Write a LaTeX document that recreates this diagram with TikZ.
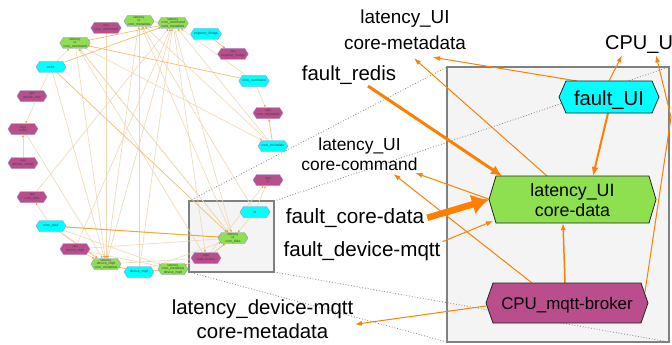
\documentclass[tikz,border=0pt]{standalone}
\usepackage{fontspec}
\setmainfont{Liberation Sans}
\usetikzlibrary{arrows.meta,calc}
\pgfdeclarelayer{bg}\pgfdeclarelayer{edges}\pgfdeclarelayer{shapes}
\pgfsetlayers{bg,edges,shapes,main}
\definecolor{hcyan}{RGB}{0,255,255}
\definecolor{hgreen}{RGB}{142,224,80}
\definecolor{hpurple}{RGB}{186,78,140}
\definecolor{arrorange}{RGB}{255,128,0}
\definecolor{faintedge}{RGB}{240,216,178}
\definecolor{midedge}{RGB}{244,190,110}
\definecolor{strongedge}{RGB}{245,168,50}
\definecolor{tiporange}{RGB}{240,160,40}
\definecolor{panelgray}{RGB}{244,244,244}
\definecolor{panelborder}{RGB}{128,128,128}
\definecolor{smalloutline}{RGB}{150,150,210}
\newcommand\fsz[2]{\fontsize{#1}{#2}\selectfont}
\begin{document}
\begin{tikzpicture}[x=1pt,y=-1pt,
  frame/.style={draw=panelborder, fill=panelgray, line width=1.5pt, inner sep=0pt, outer sep=0pt},
  dots/.style={draw=gray, dotted, line width=0.8pt},
  sn/.style={inner sep=0pt, outer sep=0pt, minimum width=23pt, minimum height=11pt, font=\fsz{3.4}{3.6}, align=center, text=black!75},
  bn/.style={inner sep=0pt, outer sep=0pt},
  lbl/.style={inner sep=0pt, anchor=base},
  fe/.style={draw=faintedge, line width=0.6pt, -{Latex[length=2.5pt,width=2pt,color=tiporange]}},
  me/.style={draw=midedge, line width=0.7pt, -{Latex[length=2.8pt,width=2.2pt,color=tiporange]}},
  se/.style={draw=strongedge, line width=1pt, -{Latex[length=3.5pt,width=3pt,color=tiporange]}},
  arr/.style={draw=arrorange, line width=1pt, -{Latex[length=7pt,width=5pt]}},
  arrm/.style={draw=arrorange, line width=2pt, -{Latex[length=9pt,width=7pt]}},
  arrb/.style={draw=arrorange, line width=3pt, -{Latex[length=11pt,width=10pt]}},
  arrh/.style={draw=arrorange, line width=6.5pt, -{Latex[length=17pt,width=21pt]}}
]
\useasboundingbox (0,0) rectangle (672,345);
\clip (0,0) rectangle (672,345);

% ---------- frames and dotted zoom lines
\begin{pgfonlayer}{bg}
\fill[white] (0,0) rectangle (672,345);
\node[frame, minimum width=85pt, minimum height=71pt] (zsmall) at (231.5,236.5) {};
\node[frame, minimum width=222pt, minimum height=275pt] (zbig) at (558,204.5) {};
\draw[dots] (zsmall.north west) -- (zbig.north west);
\draw[dots] (zsmall.north east) -- (zbig.north east);
\draw[dots] (zsmall.south west) -- (zbig.south west);
\draw[dots] (zsmall.south east) -- (zbig.south east);
\end{pgfonlayer}

% ---------- small circular graph
\node[sn] (cpuCC)   at (106,28)  {cpu\\core\_command};
\node[sn] (L1)      at (139,21)  {latency\\ui\\core\_metadata};
\node[sn] (L2)      at (173,23)  {latency\\core\_command\\core\_metadata};
\node[sn] (expF)    at (206,34)  {exporter\_fledge};
\node[sn] (cpuExp)  at (233,54)  {cpu\\exporter\_fledge};
\node[sn] (L3)      at (75,43)   {latency\\ui\\core\_command};
\node[sn] (redis)   at (51,67)   {redis};
\node[sn] (coreCmd) at (254,81)  {core\_command};
\node[sn] (cpuRest) at (32,96)   {cpu\\device\_rest};
\node[sn] (cpuMeta) at (268,113) {cpu\\core\_metadata};
\node[sn] (cpuRedis) at (23,129) {cpu\\redis};
\node[sn] (coreMeta) at (273,146) {core\_metadata};
\node[sn] (cpuVirt) at (23,163)  {cpu\\device\_virtual};
\node[sn] (cpuData) at (32,197)  {cpu\\core\_data};
\node[sn] (cpuUI)   at (268,180) {cpu\\ui};
\node[sn] (ui)      at (255,212) {ui};
\node[sn] (coreData) at (51,226) {core\_data};
\node[sn] (L4)      at (233,238) {latency\\ui\\core\_data};
\node[sn] (cpuMqtt) at (75,249)  {cpu\\device\_mqtt};
\node[sn] (cpuBroker) at (206,258) {cpu\\mqtt\_broker};
\node[sn] (L5)      at (106,264) {latency\\device\_mqtt\\core\_metadata};
\node[sn] (devMqtt) at (139,272) {device\_mqtt};
\node[sn] (L6)      at (173,269) {latency\\core\_metadata\\device\_mqtt};

% ---------- big nodes
\node[bn, minimum width=86pt, text height=24pt, text depth=8pt, font=\fsz{20.3}{24}] (fUI) at (609,97) {fault\_UI};
\node[bn, minimum width=153pt, text height=20pt, text depth=27pt, font=\fsz{17.8}{20.7}] (cd) at (572.5,199.5)
  {\begin{tabular}[t]{@{}c@{}}latency\_UI\\core-data\end{tabular}};
\node[bn, minimum width=148pt, text height=26.3pt, text depth=13.7pt, font=\fsz{16.9}{20}] (broker) at (567,303) {CPU\_mqtt-broker};

% ---------- labels
\node[lbl, font=\fsz{18.9}{26}] (lcm) at (405,23.3)
  {\begin{tabular}[t]{@{}c@{}}latency\_UI\\core-metadata\end{tabular}};
\node[lbl, anchor=base west, font=\fsz{20}{24}] (lcpu) at (605,49.3) {CPU\_UI};
\node[lbl, font=\fsz{20.4}{24}] (lfr) at (349,81) {fault\_redis};
\node[lbl, font=\fsz{17.4}{20}] (lcc) at (359.5,150)
  {\begin{tabular}[t]{@{}c@{}}latency\_UI\\core-command\end{tabular}};
\node[lbl, font=\fsz{20.7}{24}] (lfcd) at (355,223.3) {fault\_core-data};
\node[lbl, font=\fsz{20.6}{24}] (lfdm) at (362,256.7) {fault\_device-mqtt};
\node[lbl, font=\fsz{20.4}{24}] (ldm) at (262.5,314.3)
  {\begin{tabular}[t]{@{}c@{}}latency\_device-mqtt\\core-metadata\end{tabular}};

% ---------- hexagon bodies
\begin{pgfonlayer}{shapes}
\foreach \n/\c/\d in {fUI/hcyan/7pt, cd/hgreen/7pt, broker/hpurple/7pt}{
  \path[fill=\c, draw=black!85, line width=0.8pt] ([xshift=-\d]\n.west) -- (\n.north west) -- (\n.north east)
    -- ([xshift=\d]\n.east) -- (\n.south east) -- (\n.south west) -- cycle;}
\foreach \n/\c in {cpuCC/hpurple, L1/hgreen, L2/hgreen, expF/hcyan, cpuExp/hpurple, L3/hgreen, redis/hcyan,
  coreCmd/hcyan, cpuRest/hpurple, cpuMeta/hpurple, cpuRedis/hpurple, coreMeta/hcyan, cpuVirt/hpurple,
  cpuData/hpurple, cpuUI/hpurple, ui/hcyan, coreData/hcyan, L4/hgreen, cpuMqtt/hpurple, cpuBroker/hpurple,
  L5/hgreen, devMqtt/hcyan, L6/hgreen}{
  \path[fill=\c, draw=smalloutline, line width=0.4pt] ([xshift=-3.5pt]\n.west) -- (\n.north west) -- (\n.north east)
    -- ([xshift=3.5pt]\n.east) -- (\n.south east) -- (\n.south west) -- cycle;}
\end{pgfonlayer}

% ---------- edges
\begin{pgfonlayer}{edges}
\foreach \a/\b in {devMqtt/L4, L4/L3, cpuBroker/L3, cpuBroker/L5, cpuBroker/cpuUI, ui/L4, ui/cpuUI, ui/L1,
  L4/L1, coreCmd/cpuMeta, redis/cpuRedis, cpuVirt/cpuRedis, coreData/cpuData, coreCmd/L2, coreMeta/L2,
  coreMeta/L1, redis/L3, L1/L5, L2/L5, L3/L5, cpuCC/L5, cpuMqtt/L5, cpuBroker/L6, cpuMqtt/L6, cpuData/L2,
  L2/cpuBroker, devMqtt/L2, cpuRedis/L5, redis/L5, coreData/L6, cpuMqtt/L4, devMqtt/L1, L3/coreMeta,
  L2/L4, cpuMqtt/L2, L3/L4}
  \draw[fe] (\a) -- (\b);
\foreach \a/\b in {expF/cpuExp, coreMeta/cpuMeta, coreCmd/L3, L2/L3, L2/L1, cpuBroker/L4, devMqtt/L5,
  devMqtt/L6, coreData/L5, redis/L2, redis/L4}
  \draw[me] (\a) -- (\b);
\draw[se] (coreData) -- (L4);

% big panel connectors
\draw[arrb] ([shift={(19,5)}]lfr.base) -- ([xshift=6pt]cd.north west);
\draw[arrh] ([shift={(3,-5.5)}]lfcd.base east) -- ([xshift=-7pt]cd.west);
\draw[arr] ([shift={(2,0)}]lfdm.north east) -- ([shift={(-3,-2)}]cd.south west);
\draw[arr] ([xshift=-6pt]cd.west) -- ([shift={(56,23)}]lcc.base);
\draw[arr] ([xshift=-35pt]broker.north) -- ([shift={(34,24)}]lcc.base);
\draw[arr, line width=1.5pt] ([xshift=-2pt]broker.north) -- ([xshift=-9.5pt]cd.south);
\draw[arr] ([shift={(-7,3)}]broker.west) -- ([shift={(92.5,10)}]ldm.base);
\coordinate (bend) at (671,117);
\draw[arr] ([shift={(4,-11)}]broker.east) -- (bend) -- ([shift={(51,6)}]lcpu.base west);
\draw[arrm] ([xshift=-1pt]fUI.south) -- ([xshift=20.5pt]cd.north);
\draw[arr] (fUI.north) -- ([shift={(17,6)}]lcpu.base west);
\draw[arr] ([xshift=-32pt]fUI.north) -- ([shift={(28,34)}]lcm.base);
\draw[arr] ([xshift=-25.5pt]cd.north) -- ([shift={(9,35)}]lcm.base);
\end{pgfonlayer}
\end{tikzpicture}
\end{document}
